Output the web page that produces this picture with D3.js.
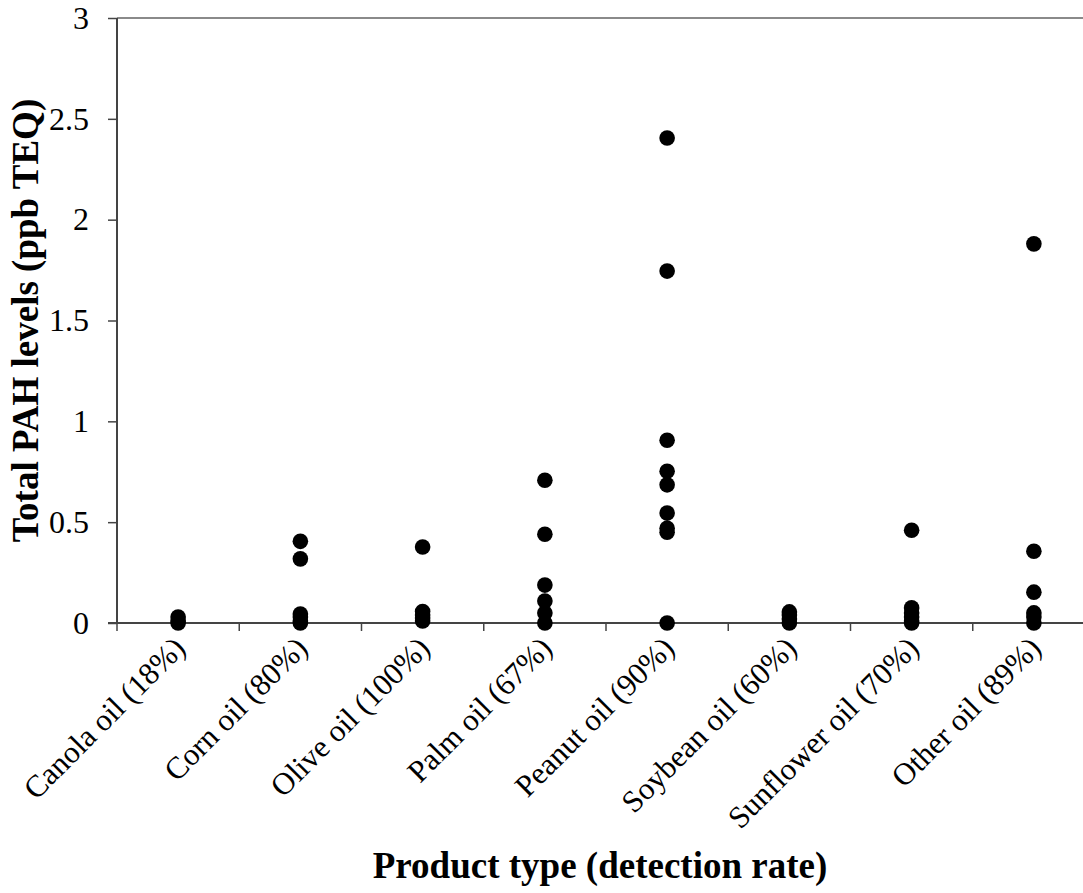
<!DOCTYPE html>
<html>
<head>
<meta charset="utf-8">
<script src="https://cdn.jsdelivr.net/npm/d3@7"></script>
<style>
  html, body { margin: 0; padding: 0; background: #fff; }
  svg { display: block; font-family: 'Liberation Serif', 'Times New Roman', serif; }
</style>
</head>
<body>
<svg id="chart" width="1083" height="893"></svg>
<script>
// categories (detection rate in label)
const categories = [
  'Canola oil (18%)', 'Corn oil (80%)', 'Olive oil (100%)', 'Palm oil (67%)',
  'Peanut oil (90%)', 'Soybean oil (60%)', 'Sunflower oil (70%)', 'Other oil (89%)',
];
// total PAH levels per sample, ppb TEQ
const canola = [0.03, 0.01, 0];
const corn = [0.405, 0.318, 0.045, 0.03, 0.01, 0];
const olive = [0.377, 0.057, 0.04, 0.025, 0.01];
const palm = [0.708, 0.44, 0.188, 0.109, 0.05, 0];
const peanut = [2.405, 1.745, 0.906, 0.752, 0.685, 0.545, 0.47, 0.45, 0];
const soybean = [0.055, 0.04, 0.02, 0];
const sunflower = [0.46, 0.075, 0.05, 0.03, 0.01, 0];
const other = [1.88, 0.356, 0.153, 0.05, 0.03, 0];
const yTicks = [0, 0.5, 1, 1.5, 2, 2.5, 3];

const series = [canola, corn, olive, palm, peanut, soybean, sunflower, other];
const points = [];
series.forEach((vals, i) => {
  vals.forEach((v) => points.push({ cat: categories[i], value: v }));
});

const svg = d3.select('#chart');
const plotLeft = 117;
const plotTop = 18;
const plotBottom = 623;
const plotRight = 1095; // plot runs past the picture edge

const x = d3.scaleBand().domain(categories).range([plotLeft, plotRight]);
const y = d3.scaleLinear().domain([0, 3]).range([plotBottom, plotTop]);

const axisColor = '#444';

// top border of plot area
svg.append('line')
  .attr('x1', plotLeft).attr('x2', plotRight)
  .attr('y1', y(3)).attr('y2', y(3))
  .attr('stroke', '#8a8a8a').attr('stroke-width', 2);

// y axis
const yAxis = svg.append('g')
  .attr('transform', `translate(${plotLeft},0)`)
  .call(d3.axisLeft(y).tickValues(yTicks).tickSize(9).tickPadding(19).tickFormat(d3.format('')));
yAxis.select('.domain').attr('stroke', axisColor).attr('stroke-width', 2).attr('d', `M0,${plotBottom}V${plotTop}`);
yAxis.selectAll('.tick line').attr('stroke', axisColor).attr('stroke-width', 1.5);
yAxis.selectAll('.tick text')
  .attr('fill', '#000').attr('font-size', 32)
  .attr('font-family', "'Liberation Serif', 'Times New Roman', serif");

// x axis: ticks between categories
const xAxisG = svg.append('g');
xAxisG.append('line')
  .attr('x1', plotLeft - 9).attr('x2', plotRight)
  .attr('y1', plotBottom).attr('y2', plotBottom)
  .attr('stroke', axisColor).attr('stroke-width', 2);
const tickPos = categories.map((c) => x(c)).concat([plotRight]);
xAxisG.selectAll('line.xt')
  .data(tickPos)
  .join('line')
  .attr('class', 'xt')
  .attr('x1', (d) => d).attr('x2', (d) => d)
  .attr('y1', plotBottom).attr('y2', plotBottom + 8)
  .attr('stroke', axisColor).attr('stroke-width', 1.5);

xAxisG.selectAll('text.cat')
  .data(categories)
  .join('text')
  .attr('class', 'cat')
  .attr('text-anchor', 'end')
  .attr('font-size', 31)
  .attr('transform', (d) => `translate(${x(d) + x.bandwidth() / 2 + 9},650) rotate(-45)`)
  .text((d) => d);

// points
svg.append('g')
  .selectAll('circle')
  .data(points)
  .join('circle')
  .attr('cx', (d) => x(d.cat) + x.bandwidth() / 2)
  .attr('cy', (d) => y(d.value))
  .attr('r', 7.8)
  .attr('fill', '#000');

// axis titles
svg.append('text')
  .attr('x', 600)
  .attr('y', 878)
  .attr('text-anchor', 'middle')
  .attr('font-size', 37)
  .attr('font-weight', 'bold')
  .text('Product type (detection rate)');

svg.append('text')
  .attr('transform', `translate(38,${(plotTop + plotBottom) / 2}) rotate(-90)`)
  .attr('text-anchor', 'middle')
  .attr('font-size', 37)
  .attr('font-weight', 'bold')
  .text('Total PAH levels (ppb TEQ)');
</script>
</body>
</html>
